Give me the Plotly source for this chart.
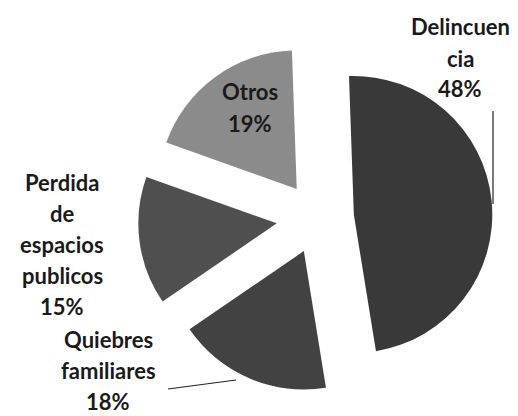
import plotly.graph_objects as go

# Slice data (clockwise from 12 o'clock)
labels = ["Delincuencia", "Quiebres familiares", "Perdida de espacios publicos", "Otros"]
values = [48, 18, 15, 19]
# Label text as it is wrapped on the chart
label_lines = [
    ["Delincuen", "cia"],
    ["Quiebres", "familiares"],
    ["Perdida", "de", "espacios", "publicos"],
    ["Otros"],
]

SLICE_COLORS = ["#393939", "#424242", "#4f4f4f", "#8b8b8b"]
LABEL_FONT = dict(family="Lato", size=22, color="#1a1a1a")
LINE_STEP = 31  # px between wrapped label lines

W, H = 518, 416

# Label anchor points in pixels (centre x, centre y of first line)
label_pos = [(452, 19), (100, 331), (54, 174), (242, 84)]

fig = go.Figure()

fig.add_trace(
    go.Pie(
        labels=labels,
        values=values,
        sort=False,
        direction="clockwise",
        rotation=-2,
        pull=[0.26, 0.26, 0.3, 0.26],
        marker=dict(colors=SLICE_COLORS, line=dict(width=0)),
        textinfo="none",
        hoverinfo="label+percent",
        showlegend=False,
        domain=dict(x=[(310 - 180) / W, (310 + 180) / W], y=[(206 - 180) / H, (206 + 180) / H]),
    )
)

annotations = []
for lines, val, (px, py) in zip(label_lines, values, label_pos):
    for i, line in enumerate(lines + [f"{val}%"]):
        annotations.append(
            dict(
                text=f"<b>{line}</b>",
                x=px / W,
                y=1 - (py + i * LINE_STEP) / H,
                xref="paper",
                yref="paper",
                xanchor="center",
                yanchor="middle",
                showarrow=False,
                font=LABEL_FONT,
            )
        )

# Leader lines
shapes = [
    dict(type="line", xref="paper", yref="paper",
         x0=485 / W, y0=1 - 103 / H, x1=485 / W, y1=1 - 196 / H,
         line=dict(color="#222222", width=1.2)),
    dict(type="line", xref="paper", yref="paper",
         x0=160 / W, y0=1 - 381 / H, x1=228 / W, y1=1 - 372 / H,
         line=dict(color="#222222", width=1.2)),
]

fig.update_layout(
    width=W,
    height=H,
    margin=dict(l=0, r=0, t=0, b=0),
    paper_bgcolor="white",
    plot_bgcolor="white",
    annotations=annotations,
    shapes=shapes,
)

fig.write_html("out.html")
